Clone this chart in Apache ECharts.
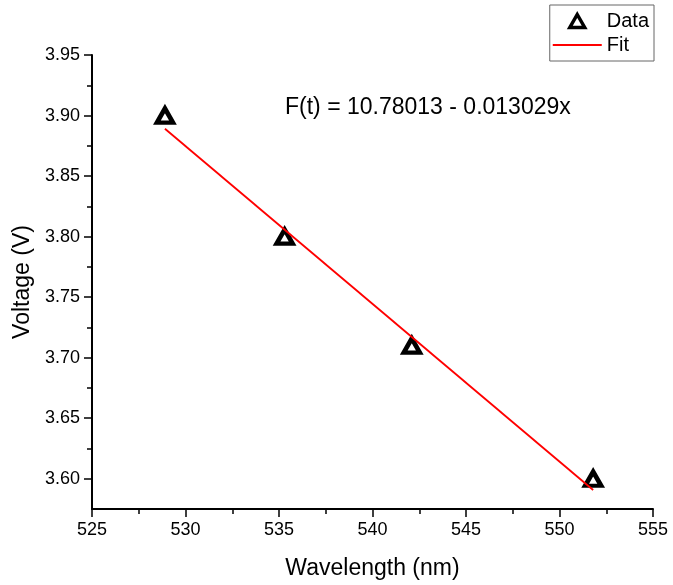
<!DOCTYPE html>
<html>
<head>
<meta charset="utf-8">
<script src="https://cdn.jsdelivr.net/npm/echarts@6/dist/echarts.min.js"></script>
<style>
  html, body { margin: 0; padding: 0; background: #fff; }
  #chart { width: 673px; height: 585px; }
</style>
</head>
<body>
<div id="chart"></div>
<script>
// Measured wavelength / stopping voltage pairs
const wavelengths = [528.9, 535.3, 542.1, 551.8];
const voltages = [3.90, 3.80, 3.71, 3.60];

// Linear fit coefficients: F(t) = fitIntercept + fitSlope * x
const fitIntercept = 10.78013;
const fitSlope = -0.013029;
const fitLabel = 'F(t) = 10.78013 - 0.013029x';

// Axis ticks
const xTicks = [525, 530, 535, 540, 545, 550, 555];
const yMajorTicks = [3.60, 3.65, 3.70, 3.75, 3.80, 3.85, 3.90, 3.95];
const yMinorTicks = [3.625, 3.675, 3.725, 3.775, 3.825, 3.875, 3.925];
const yRange = [3.575, 3.95];

const FONT = '"Liberation Sans", Arial, sans-serif';

const points = wavelengths.map((w, i) => [w, voltages[i]]);
const xFitMin = Math.min.apply(null, wavelengths);
const xFitMax = Math.max.apply(null, wavelengths);
const fitLine = [xFitMin, xFitMax].map(x => [x, fitIntercept + fitSlope * x]);

const chart = echarts.init(document.getElementById('chart'), null, { renderer: 'canvas' });

const axisLineStyle = { color: '#000', width: 2 };

chart.setOption({
  animation: false,
  backgroundColor: '#fff',
  textStyle: { fontFamily: FONT, color: '#000' },
  grid: { left: 92, right: 20, top: 55, bottom: 76, containLabel: false },
  legend: {
    orient: 'vertical',
    right: 19,
    top: 5,
    padding: [6, 5, 6, 3],
    itemGap: 4,
    itemWidth: 49,
    itemHeight: 13,
    symbolKeepAspect: true,
    borderColor: '#666',
    borderWidth: 1,
    textStyle: { fontFamily: FONT, fontSize: 20, color: '#000' },
    data: [
      // open triangle keeps its own proportions inside the wide icon box
      { name: 'Data', icon: 'path://M8,0 L16,14 L0,14 Z',
        itemStyle: { color: 'rgba(255,255,255,0)', borderColor: '#000', borderWidth: 3.5 } },
      { name: 'Fit', icon: 'path://M0,0 L49,0 L49,2 L0,2 Z' }
    ]
  },
  xAxis: {
    type: 'value',
    min: xTicks[0],
    max: xTicks[xTicks.length - 1],
    interval: xTicks[1] - xTicks[0],
    name: 'Wavelength (nm)',
    nameLocation: 'middle',
    nameGap: 48,
    nameTextStyle: { fontFamily: FONT, fontSize: 23, color: '#000' },
    axisLine: { show: true, onZero: false, lineStyle: axisLineStyle },
    axisTick: { show: true, inside: false, length: 8, lineStyle: { color: '#000', width: 1.5 } },
    minorTick: { show: true, splitNumber: 2, length: 5, lineStyle: { color: '#000', width: 1.5 } },
    axisLabel: { fontFamily: FONT, fontSize: 18, color: '#000', margin: 12 },
    splitLine: { show: false },
    minorSplitLine: { show: false }
  },
  yAxis: [
    {
      type: 'value',
      min: yRange[0],
      max: yRange[1],
      name: 'Voltage (V)',
      nameLocation: 'middle',
      nameGap: 56,
      nameTextStyle: { fontFamily: FONT, fontSize: 23, color: '#000' },
      axisLine: { show: true, onZero: false, lineStyle: axisLineStyle },
      axisTick: { show: true, inside: false, length: 8, customValues: yMajorTicks,
                  lineStyle: { color: '#000', width: 1.5 } },
      axisLabel: { fontFamily: FONT, fontSize: 18, color: '#000', margin: 12,
                   customValues: yMajorTicks, formatter: v => v.toFixed(2) },
      splitLine: { show: false }
    },
    {
      type: 'value',
      min: yRange[0],
      max: yRange[1],
      position: 'left',
      axisLine: { show: false },
      axisTick: { show: true, inside: false, length: 5, customValues: yMinorTicks,
                  lineStyle: { color: '#000', width: 1.5 } },
      axisLabel: { show: false },
      splitLine: { show: false }
    }
  ],
  series: [
    {
      name: 'Data',
      type: 'scatter',
      data: points,
      symbol: 'triangle',
      symbolSize: [16, 14],
      itemStyle: { color: 'rgba(255,255,255,0)', borderColor: '#000', borderWidth: 4.5, opacity: 1 },
      z: 2
    },
    {
      name: 'Fit',
      type: 'line',
      data: fitLine,
      symbol: 'none',
      lineStyle: { color: '#ff0000', width: 1.8 },
      itemStyle: { color: '#ff0000' },
      z: 3
    }
  ],
  graphic: [
    {
      type: 'text',
      left: 285,
      top: 96,
      style: { text: fitLabel, fontFamily: FONT, fontSize: 23, fill: '#000' }
    }
  ]
});
</script>
</body>
</html>
